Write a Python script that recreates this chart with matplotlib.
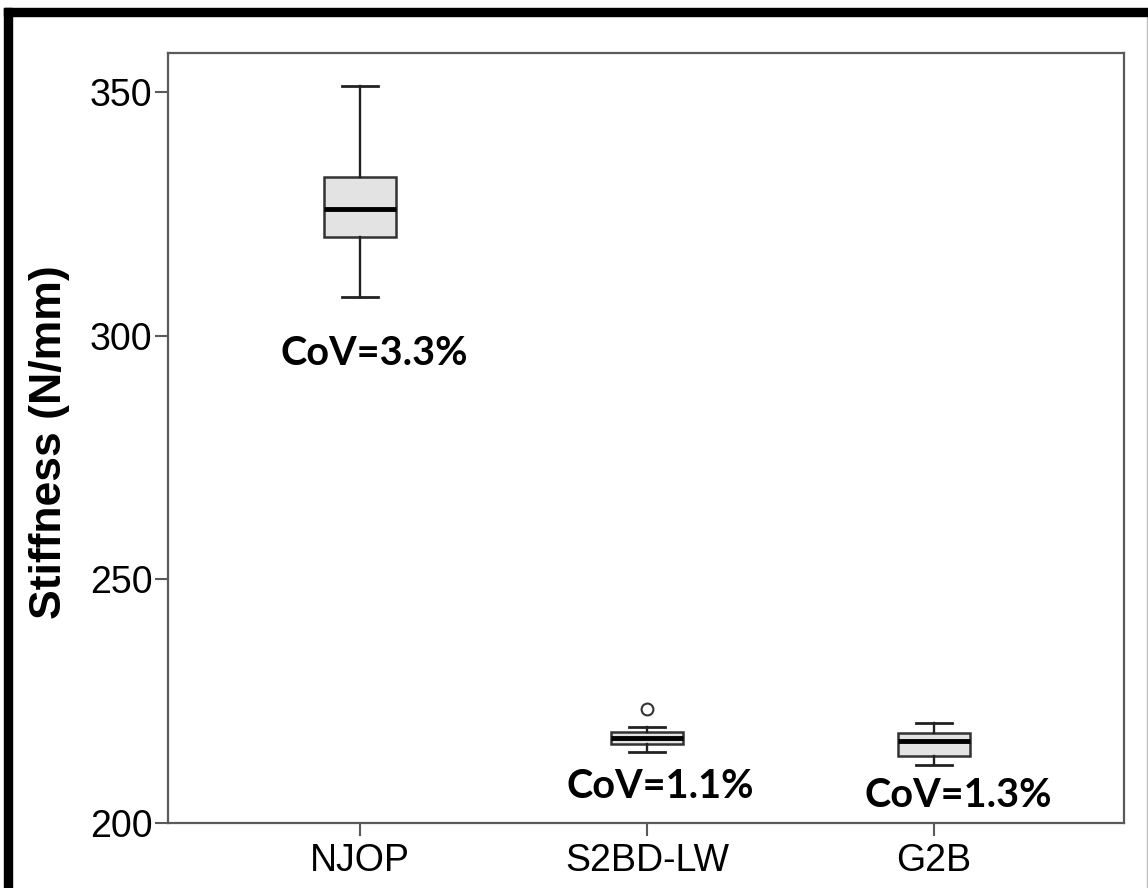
import matplotlib.pyplot as plt
from matplotlib.patches import Rectangle
from matplotlib.lines import Line2D

# box statistics
groups = ['NJOP', 'S2BD-LW', 'G2B']
whis_low = [307.9, 214.6, 212.0]
q1 = [320.3, 216.2, 213.7]
medians = [326.0, 217.4, 216.9]
q3 = [332.6, 218.75, 218.4]
whis_high = [351.2, 219.6, 220.6]
outliers = [[], [223.4], []]
cov_labels = ['CoV=3.3%', 'CoV=1.1%', 'CoV=1.3%']
cov_y = [294.0, 205.1, 203.3]
cov_dx = [0.05, 0.045, 0.083]

stats = []
for i in range(len(groups)):
    stats.append({'label': groups[i], 'whislo': whis_low[i], 'q1': q1[i],
                  'med': medians[i], 'q3': q3[i], 'whishi': whis_high[i],
                  'fliers': outliers[i]})

fig = plt.figure(figsize=(11.48, 8.88), dpi=100)
ax = fig.add_axes([0.1463, 0.0732, 0.8328, 0.8671])

ax.bxp(stats, positions=[1, 2, 3], widths=0.254, patch_artist=True,
       boxprops=dict(facecolor='#e3e3e3', edgecolor='#333333', linewidth=1.8),
       medianprops=dict(color='black', linewidth=3.5),
       whiskerprops=dict(color='#222222', linewidth=1.7),
       capprops=dict(color='#222222', linewidth=2.0),
       flierprops=dict(marker='o', markerfacecolor='white', markeredgecolor='#333333',
                       markersize=8.5, markeredgewidth=1.5))

for i, txt in enumerate(cov_labels):
    ax.text(i + 1 + cov_dx[i], cov_y[i], txt, ha='center', va='baseline',
            fontsize=28.5, fontweight='bold', family='Lato')

ax.set_xlim(0.331, 3.662)
ax.set_ylim(200, 358)
ax.set_yticks([200, 250, 300, 350])
ax.set_xticks([1, 2, 3])
ax.set_xticklabels(groups)

for s in ax.spines.values():
    s.set_color('#5a5a5a')
    s.set_linewidth(1.6)
ax.tick_params(axis='both', colors='#5a5a5a', length=9.5, width=1.5, labelcolor='black')
ax.tick_params(axis='y', pad=1.5, labelsize=27)
ax.tick_params(axis='x', pad=5, labelsize=27)
for lab in ax.get_xticklabels() + ax.get_yticklabels():
    lab.set_family(['Liberation Sans'])

ax.set_ylabel('Stiffness (N/mm)', fontsize=32, fontweight='bold', family=['Liberation Sans'])
ax.yaxis.set_label_coords(-0.1025, 0.495)

# black frame on top and left, as in the source image
fig.patches.append(Rectangle((4 / 1148, 0), 8 / 1148, 1 - 8 / 888, transform=fig.transFigure,
                             color='black', zorder=10))
fig.patches.append(Rectangle((4 / 1148, 1 - 16 / 888), 1 - 4 / 1148, 8 / 888,
                             transform=fig.transFigure, color='black', zorder=10))
fig.lines.append(Line2D([1 - 1.5 / 1148, 1 - 1.5 / 1148], [0, 1 - 16 / 888],
                        transform=fig.transFigure, color='#bbbbbb', linewidth=1))

fig.savefig('out.png', dpi=100)
